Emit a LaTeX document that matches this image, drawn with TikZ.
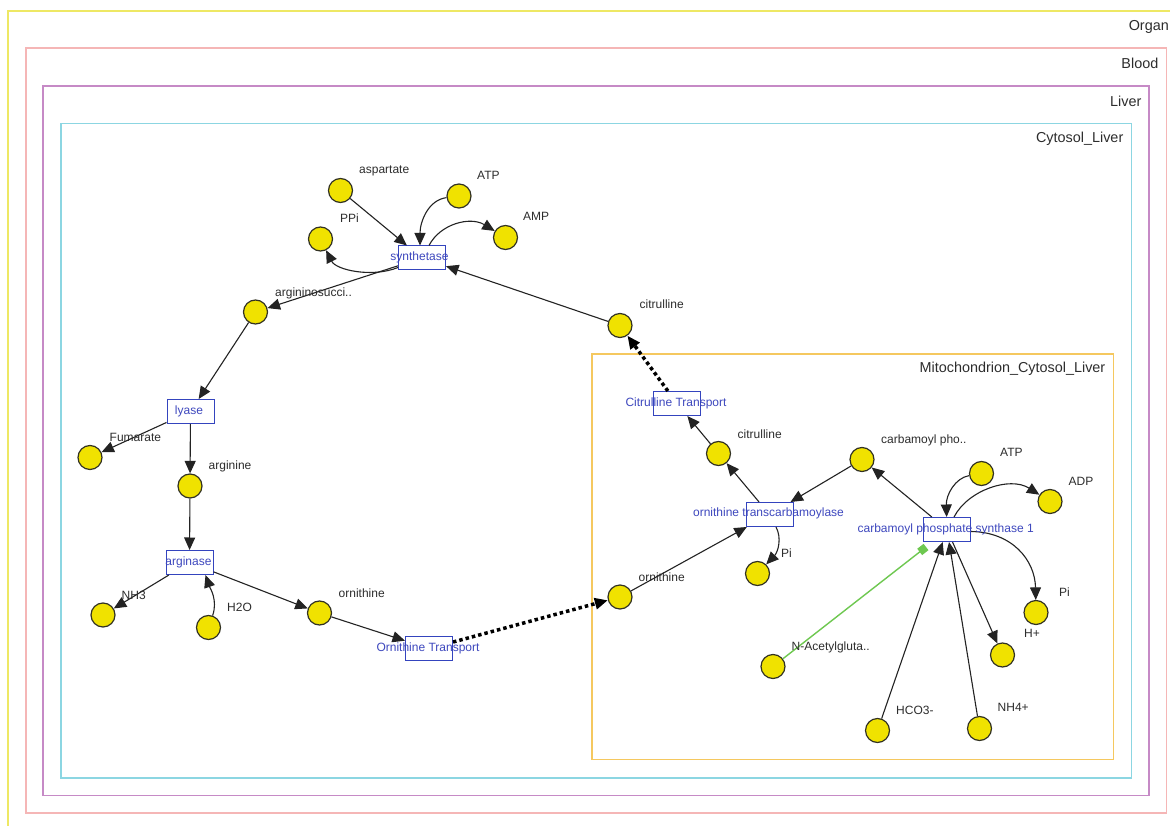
\documentclass[tikz,border=0pt]{standalone}
\usepackage{fontspec}
\setmainfont{Liberation Sans}
\usetikzlibrary{arrows.meta,calc}
\definecolor{cyellowf}{RGB}{238,232,100}
\definecolor{cpink}{RGB}{245,182,182}
\definecolor{cpurple}{RGB}{198,138,198}
\definecolor{ccyan}{RGB}{140,214,226}
\definecolor{corange}{RGB}{245,200,95}
\definecolor{spfill}{RGB}{240,226,0}
\definecolor{spdraw}{RGB}{50,50,35}
\definecolor{boxblue}{RGB}{52,68,190}
\definecolor{txtblue}{RGB}{62,72,190}
\definecolor{txtgray}{RGB}{45,45,45}
\definecolor{edgecol}{RGB}{35,35,35}
\definecolor{modgreen}{RGB}{110,200,80}
\begin{document}
\begin{tikzpicture}[x=1pt,y=-1pt,
 frame/.style={line width=1.6pt},
 comp/.style={anchor=east, text=txtgray, font=\fontsize{14.4}{16}\selectfont, inner sep=0pt},
 sp/.style={circle, draw=spdraw, fill=spfill, line width=1.2pt, minimum size=24pt, inner sep=0pt},
 slbl/.style={anchor=west, text=txtgray, font=\fontsize{12}{14}\selectfont, inner sep=0pt},
 rxn/.style={rectangle, draw=boxblue, line width=1pt, minimum width=47pt, minimum height=24pt, inner sep=0pt},
 rlbl/.style={text=txtblue, font=\fontsize{12}{14}\selectfont, inner sep=0pt},
 edge/.style={draw=edgecol, line width=1.1pt, -{Triangle[length=12.5pt,width=11pt]}},
 transport/.style={draw=black, line width=3.5pt, dash pattern=on 3.5pt off 3pt, -{Triangle[length=13pt,width=11pt]}},
 modifier/.style={draw=modgreen, line width=1.4pt, -{Square[length=8pt,width=8pt,fill=modgreen]}}
]
\useasboundingbox (0,0) rectangle (1170,826);
\clip (0,0) rectangle (1170,826);
\fill[white] (0,0) rectangle (1170,826);

% compartments
\draw[frame,cyellowf] (7.7,11) rectangle (1220,900);
\draw[frame,cpink] (25.7,48.3) rectangle (1166.3,812.7);
\draw[frame,cpurple] (43,86) rectangle (1149,795.3);
\draw[frame,ccyan] (60.7,123.7) rectangle (1131.5,777.7);
\draw[frame,corange] (591.7,354) rectangle (1113.3,759.5);
\node[comp] (c-organ) at (1169,27) {Organ};
\node[comp] (c-blood) at (1158.5,63.5) {Blood};
\node[comp] (c-liver) at (1141.5,101) {Liver};
\node[comp] (c-cyt) at (1123.5,138.5) {Cytosol\_Liver};
\node[comp] (c-mito) at (1105.5,369) {Mitochondrion\_Cytosol\_Liver};

% reactions
\node[rxn] (synth) at (422,258) {};
\node[rxn] (lyase) at (190.5,411.5) {};
\node[rxn] (arginase) at (189.5,562.5) {};
\node[rxn] (ornt) at (429,648.5) {};
\node[rxn] (citt) at (677,403.5) {};
\node[rxn] (otc) at (769.5,514.5) {};
\node[rxn] (cps) at (947,529.5) {};

% species
\node[sp] (asp) at (340.5,190.5) {};
\node[sp] (atp1) at (459,196) {};
\node[sp] (amp) at (505.5,237.5) {};
\node[sp] (ppi) at (320.5,239) {};
\node[sp] (argsuc) at (255.5,312) {};
\node[sp] (cit1) at (620,325.5) {};
\node[sp] (fum) at (90,457.5) {};
\node[sp] (arg) at (190,486) {};
\node[sp] (nh3) at (103,615) {};
\node[sp] (h2o) at (208.5,627.5) {};
\node[sp] (orn1) at (319.5,613) {};
\node[sp] (orn2) at (620,597) {};
\node[sp] (cit2) at (718.5,453.5) {};
\node[sp] (pi1) at (757.5,573.5) {};
\node[sp] (cp) at (862,459.5) {};
\node[sp] (atp2) at (981.5,473.5) {};
\node[sp] (adp) at (1050,501.5) {};
\node[sp] (pi2) at (1036,612.5) {};
\node[sp] (hp) at (1002.5,655) {};
\node[sp] (nag) at (773,666.5) {};
\node[sp] (hco) at (877.5,730.5) {};
\node[sp] (nh4) at (979.5,728.5) {};

% edges
\draw[edge] (asp) -- (synth);
\draw[edge] (atp1) .. controls (428,200) and (420,222) .. ($(synth.north)+(-2,0)$);
\draw[edge] ($(synth.north)+(7,0)$) .. controls (440,224) and (470,216) .. (amp);
\draw[edge] ($(synth.south west)+(0,-3)$) .. controls (372,278) and (336,270) .. (ppi);
\draw[edge] (synth) -- (argsuc);
\draw[edge] (cit1) -- (synth);
\draw[edge] (argsuc) -- (lyase);
\draw[edge] (lyase) -- (fum);
\draw[edge] (lyase) -- (arg);
\draw[edge] (arg) -- (arginase);
\draw[edge] (arginase) -- (nh3);
\draw[edge] (h2o) .. controls (218,600) and (210,588) .. ($(arginase.south)+(16,0)$);
\draw[edge] (arginase) -- (orn1);
\draw[edge] (orn1) -- (ornt);
\draw[transport] (ornt) -- (orn2);
\draw[edge] (orn2) -- (otc);
\draw[edge] (cp) -- (otc);
\draw[edge] (otc) -- (cit2);
\draw[edge] ($(otc.south)+(6.5,0)$) .. controls (782,538) and (778,552) .. (pi1);
\draw[edge] (cit2) -- (citt);
\draw[transport] (citt) -- (cit1);
\draw[edge] (cps) -- (cp);
\draw[edge] (atp2) .. controls (955,478) and (946,495) .. (cps);
\draw[edge] ($(cps.north)+(7,0)$) .. controls (968,490) and (1010,476) .. (adp);
\draw[edge] ($(cps.east)+(0,2)$) .. controls (1012,532) and (1035,560) .. (pi2);
\draw[edge] (cps) -- (hp);
\draw[edge] (hco) -- (cps);
\draw[edge] (nh4) -- (cps);
\draw[modifier] (nag) -- ($(cps.south west)+(3,5)$);

% reaction labels
\node[rlbl] (synth-l) at (419.5,257.5) {synthetase};
\node[rlbl] (lyase-l) at (189,411.5) {lyase};
\node[rlbl] (arginase-l) at (188.5,562) {arginase};
\node[rlbl] (ornt-l) at (428,648.5) {Ornithine Transport};
\node[rlbl] (citt-l) at (676,403) {Citrulline Transport};
\node[rlbl] (otc-l) at (768.5,513.5) {ornithine transcarbamoylase};
\node[rlbl] (cps-l) at (945.7,529) {carbamoyl phosphate synthase 1};

% species labels
\node[slbl] (asp-l) at (359,170.5) {aspartate};
\node[slbl] (atp1-l) at (477,175) {ATP};
\node[slbl] (amp-l) at (523,216.5) {AMP};
\node[slbl] (ppi-l) at (340,218) {PPi};
\node[slbl] (argsuc-l) at (275,293) {argininosucci..};
\node[slbl] (cit1-l) at (639.5,304.5) {citrulline};
\node[slbl] (fum-l) at (109.5,437.5) {Fumarate};
\node[slbl] (arg-l) at (208.5,466) {arginine};
\node[slbl] (nh3-l) at (121.5,595.5) {NH3};
\node[slbl] (h2o-l) at (227,607.5) {H2O};
\node[slbl] (orn1-l) at (338.5,593) {ornithine};
\node[slbl] (orn2-l) at (638.5,577) {ornithine};
\node[slbl] (cit2-l) at (737.5,434) {citrulline};
\node[slbl] (pi1-l) at (781,553) {Pi};
\node[slbl] (cp-l) at (881,440) {carbamoyl pho..};
\node[slbl] (atp2-l) at (1000,452.5) {ATP};
\node[slbl] (adp-l) at (1068.5,481.5) {ADP};
\node[slbl] (pi2-l) at (1059,592.5) {Pi};
\node[slbl] (hp-l) at (1024,633.5) {H+};
\node[slbl] (nag-l) at (791.5,647) {N-Acetylgluta..};
\node[slbl] (hco-l) at (896,710) {HCO3-};
\node[slbl] (nh4-l) at (997.5,707) {NH4+};
\end{tikzpicture}
\end{document}
